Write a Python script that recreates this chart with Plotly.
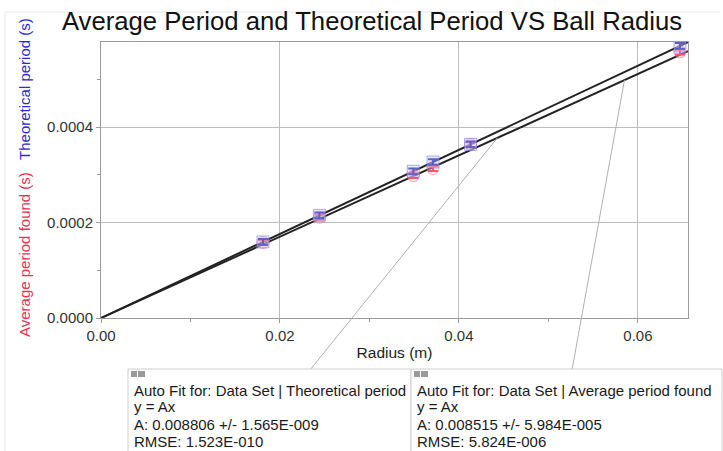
import plotly.graph_objects as go

radius = [0.0181, 0.0244, 0.0349, 0.0371, 0.0413, 0.0647]
theoretical = [0.0001594, 0.0002149, 0.0003073, 0.0003267, 0.0003637, 0.0005697]
average_found = [0.0001580, 0.0002110, 0.0002980, 0.0003130, 0.0003630, 0.0005570]
theo_err = [0.000006] * 6
avg_err = [0.000005] * 6

A_theo = 0.008806
A_avg = 0.008515
x_max = 0.0656
y_max = 0.000578

FONT = "Arial, Liberation Sans, sans-serif"
W, H = 723, 451
L, R, T, B = 101, 35, 42, 133
pw, ph = W - L - R, H - T - B

def px(x):
    return (x - L) / pw

def py(y):
    return (H - B - y) / ph

fig = go.Figure()

fx = [0, x_max]
fig.add_trace(go.Scatter(x=fx, y=[A_theo * v for v in fx], mode="lines",
                         line=dict(color="#222222", width=2), showlegend=False, hoverinfo="skip"))
fig.add_trace(go.Scatter(x=fx, y=[A_avg * v for v in fx], mode="lines",
                         line=dict(color="#222222", width=2), showlegend=False, hoverinfo="skip"))

fig.add_trace(go.Scatter(x=radius, y=average_found, mode="markers",
                         marker=dict(symbol="circle", size=12, color="rgba(255,200,210,0.35)",
                                     line=dict(color="rgba(235,100,120,0.55)", width=1)),
                         error_y=dict(type="data", array=avg_err, color="#e0203a", thickness=2, width=5),
                         showlegend=False))
fig.add_trace(go.Scatter(x=radius, y=theoretical, mode="markers",
                         marker=dict(symbol="square", size=12, color="rgba(200,200,255,0.4)",
                                     line=dict(color="rgba(120,120,235,0.6)", width=1)),
                         error_y=dict(type="data", array=theo_err, color="#1a1aa0", thickness=2, width=5),
                         showlegend=False))

shapes = []
annotations = []

# faint outer frame
shapes.append(dict(type="line", xref="paper", yref="paper", x0=px(5), x1=px(5), y0=py(12), y1=py(451),
                   line=dict(color="#e6e6e6", width=1)))
shapes.append(dict(type="line", xref="paper", yref="paper", x0=px(5), x1=px(720), y0=py(12), y1=py(12),
                   line=dict(color="#e6e6e6", width=1)))

# connector lines
shapes.append(dict(type="line", xref="paper", yref="paper", x0=px(310), y0=py(370),
                   x1=0.0443 / x_max, y1=A_avg * 0.0443 / y_max,
                   line=dict(color="#b0b0b0", width=1)))
shapes.append(dict(type="line", xref="paper", yref="paper", x0=px(572), y0=py(370),
                   x1=0.0585 / x_max, y1=A_avg * 0.0585 / y_max,
                   line=dict(color="#b0b0b0", width=1)))

boxes = [
    (128, 411, ["Auto Fit for: Data Set | Theoretical period", "y = Ax",
                "A: 0.008806 +/- 1.565E-009", "RMSE: 1.523E-010"]),
    (411, 722, ["Auto Fit for: Data Set | Average period found", "y = Ax",
                "A: 0.008515 +/- 5.984E-005", "RMSE: 5.824E-006"]),
]
for x0, x1, lines in boxes:
    shapes.append(dict(type="rect", xref="paper", yref="paper", x0=px(x0), x1=px(x1),
                       y0=py(455), y1=py(369), fillcolor="white",
                       line=dict(color="#cfcfcf", width=1), layer="above"))
    shapes.append(dict(type="rect", xref="paper", yref="paper", x0=px(x0 + 3), x1=px(x0 + 9),
                       y0=py(377), y1=py(371), fillcolor="#9a9a9a", line=dict(width=0), layer="above"))
    shapes.append(dict(type="rect", xref="paper", yref="paper", x0=px(x0 + 10), x1=px(x0 + 17),
                       y0=py(377), y1=py(371), fillcolor="#9a9a9a", line=dict(width=0), layer="above"))
    for i, ln in enumerate(lines):
        annotations.append(dict(xref="paper", yref="paper", x=px(x0 + 4), y=py(390 + 17 * i),
                                xanchor="left", yanchor="middle", align="left", showarrow=False,
                                text=ln, font=dict(family=FONT, size=15, color="#1a1a1a")))

# two-coloured y-axis title
annotations.append(dict(xref="paper", yref="paper", x=px(24), y=py(178),
                        xanchor="center", yanchor="middle", textangle=-90, showarrow=False,
                        text='<span style="color:#e8334f">Average period found (s)</span>'
                             '   <span style="color:#2b2bd0">Theoretical period (s)</span>',
                        font=dict(family=FONT, size=15)))

fig.update_layout(
    width=W, height=H,
    margin=dict(l=L, r=R, t=T, b=B),
    paper_bgcolor="white", plot_bgcolor="white",
    font=dict(family=FONT, size=15, color="#333333"),
    title=dict(text="Average Period and Theoretical Period VS Ball Radius",
               x=372 / W, xanchor="center", y=1 - 21 / H, yanchor="middle",
               font=dict(family=FONT, size=25.7, color="#111111")),
    xaxis=dict(range=[0, x_max], dtick=0.02, tickformat=".2f",
               showgrid=True, gridcolor="#bdbdbd", gridwidth=1,
               showline=True, linecolor="#9a9a9a", mirror=True,
               ticks="outside", ticklen=4, tickcolor="#9a9a9a",
               minor=dict(dtick=0.01, ticks="outside", ticklen=3, tickcolor="#9a9a9a", showgrid=False),
               zeroline=False,
               title=dict(text="Radius (m)", standoff=4, font=dict(family=FONT, size=15.5, color="#222222"))),
    yaxis=dict(range=[0, y_max], dtick=0.0002, tickformat=".4f",
               showgrid=True, gridcolor="#bdbdbd", gridwidth=1,
               showline=True, linecolor="#9a9a9a", mirror=True,
               ticks="outside", ticklen=4, tickcolor="#9a9a9a",
               minor=dict(dtick=0.0001, ticks="outside", ticklen=3, tickcolor="#9a9a9a", showgrid=False),
               zeroline=False),
    shapes=shapes,
    annotations=annotations,
)

fig.write_html("out.html")
